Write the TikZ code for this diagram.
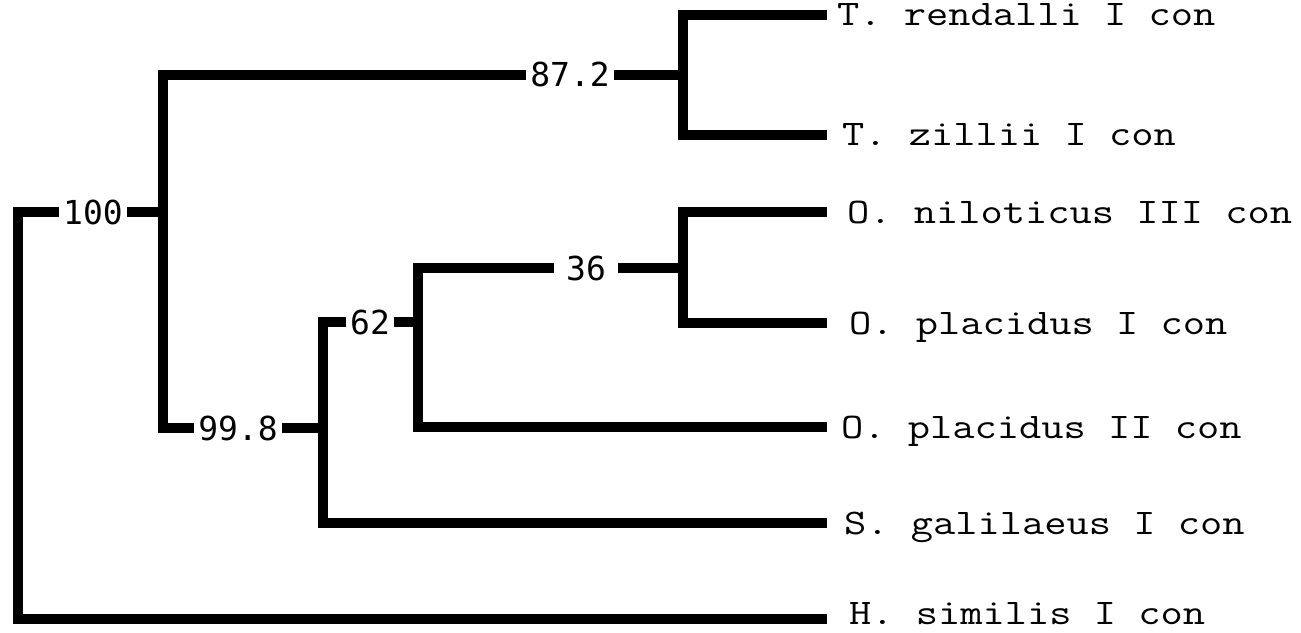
\documentclass[tikz,border=0pt]{standalone}
\usepackage{fontspec}
\usetikzlibrary{positioning, calc}
\newfontfamily\leaffont[FakeStretch=1.2]{Latin Modern Mono}
\newfontfamily\bootfont{DejaVu Sans Mono}
\tikzset{
    branch/.style={line width=10bp, line join=miter, line cap=butt, color=black},
    leaf/.style={anchor=west, inner xsep=10bp, inner ysep=0pt, text height=22bp, text depth=0pt,
        font=\leaffont\fontsize{36bp}{40bp}\selectfont, execute at begin node={\hspace*{#1}}},
    leaf/.default=0bp,
    boot/.style={inner xsep=4bp, inner ysep=0pt, text height=24bp, text depth=0pt,
        font=\bootfont\fontsize{33bp}{36bp}\selectfont},
}

\begin{document}
\begin{tikzpicture}[x=1bp, y=-1bp]
    \useasboundingbox (0,0) rectangle (1301,633);

    % Taxa
    \node[leaf]      (ren) at (827,15)  {T. rendalli I con};
    \node[leaf=5bp]  (zil) at (827,135) {T. zillii I con};
    \node[leaf=10bp] (nil) at (827,212) {O. niloticus III con};
    \node[leaf=12bp] (pl1) at (827,323) {O. placidus I con};
    \node[leaf=4bp]  (pl2) at (827,427) {O. placidus II con};
    \node[leaf=7bp]  (gal) at (827,523) {S. galilaeus I con};
    \node[leaf=12bp, text depth=12bp] (sim) at (827,619) {H. similis I con};

    % Bootstrap values
    \node[boot] (b872) at (570,75)  {87.2};
    \node[boot] (b100) at (93,212)  {100};
    \node[boot] (b998) at (238,428) {99.8};
    \node[boot] (b62)  at (370,322) {62};
    \node[boot, inner xsep=12bp] (b36) at (586,268) {36};

    % Junctions
    \coordinate (jroot) at (18,212);
    \coordinate (j100) at (163,212);
    \coordinate (j998) at (323,428);
    \coordinate (j62)  at (418,322);
    \coordinate (j36)  at (683,268);
    \coordinate (j872) at (683,75);

    % Branches
    \draw[branch] (b100.west) -- (b100.west -| jroot) -- (sim.west -| jroot) -- (sim.west);
    \draw[branch] (b100.east) -- (j100);
    \draw[branch] (b872.west) -- (b872.west -| j100) -- (b998.west -| j100) -- (b998.west);
    \draw[branch] (b872.east) -- (j872);
    \draw[branch] (ren.west) -- (ren.west -| j872) -- (zil.west -| j872) -- (zil.west);
    \draw[branch] (b998.east) -- (b998.east -| j998);
    \draw[branch] (b62.west) -- (b62.west -| j998) -- (gal.west -| j998) -- (gal.west);
    \draw[branch] (b62.east) -- (j62);
    \draw[branch] (b36.west) -- (b36.west -| j62) -- (pl2.west -| j62) -- (pl2.west);
    \draw[branch] (b36.east) -- (j36);
    \draw[branch] (nil.west) -- (nil.west -| j36) -- (pl1.west -| j36) -- (pl1.west);
\end{tikzpicture}
\end{document}
